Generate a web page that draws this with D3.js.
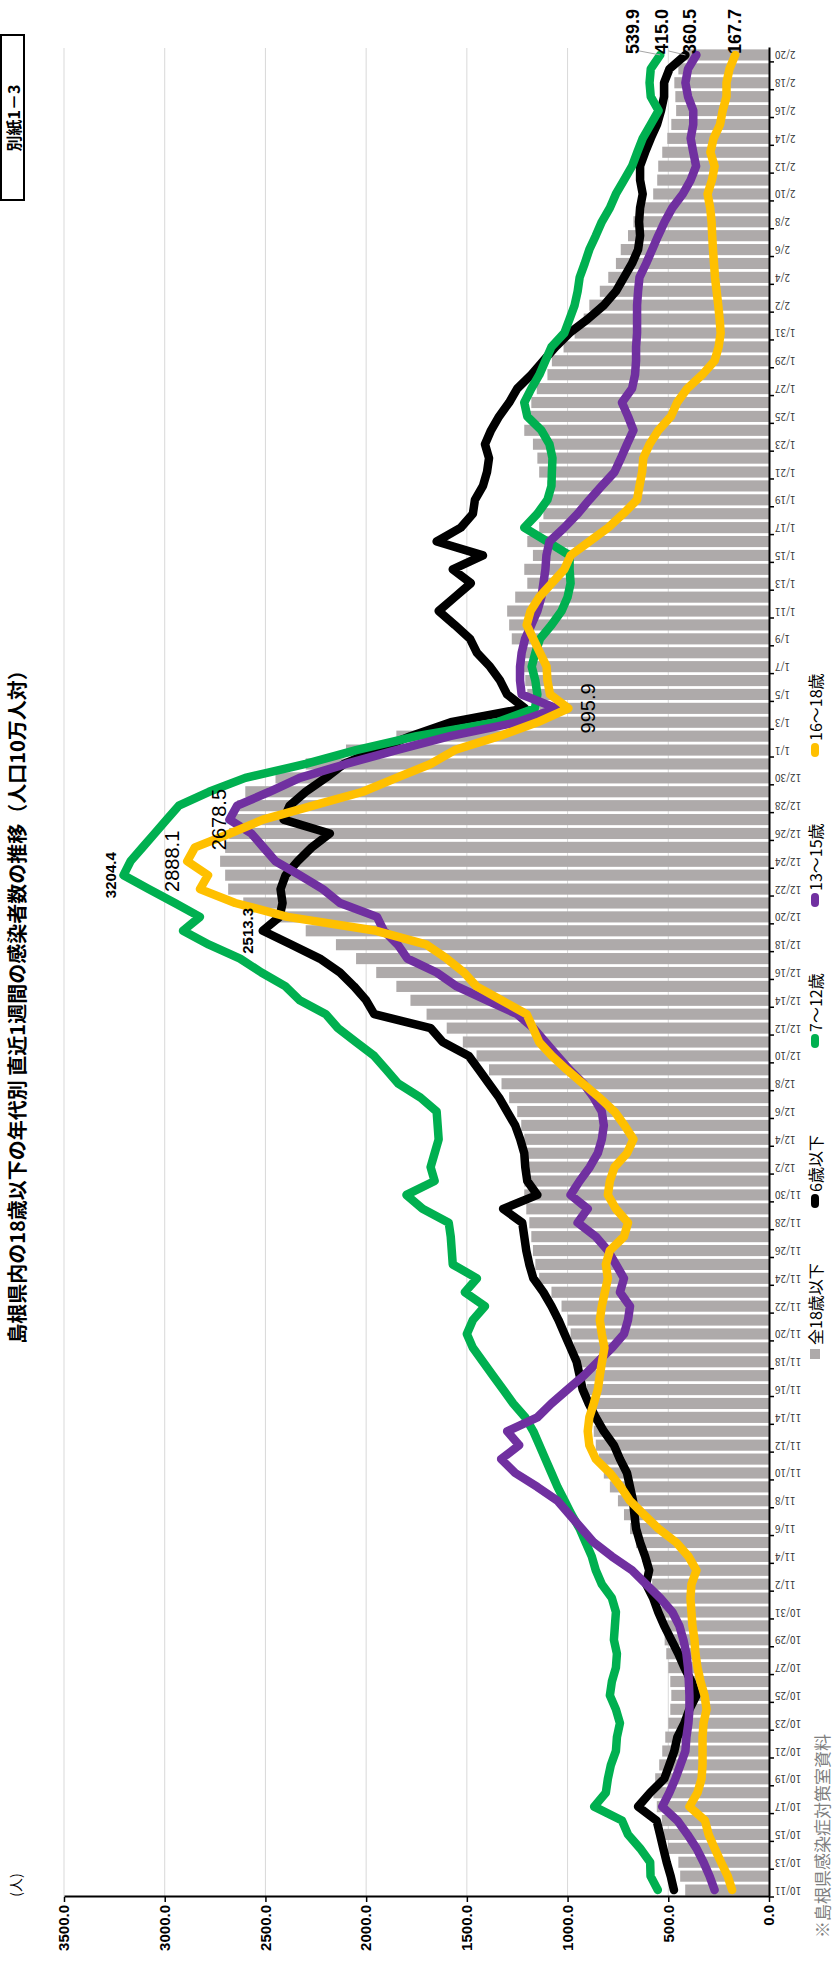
<!DOCTYPE html>
<meta charset="utf-8">
<style>
  body {
    margin: 0;
    padding: 0;
    background-color: #ffffff;
  }
  svg {
    display: block;
  }
  text {
    font-family: "Noto Sans CJK JP", sans-serif;
  }
  .num {
    font-family: "Liberation Sans", Arial, sans-serif;
  }
</style>

<!-- Load d3.js -->
<script src="https://d3js.org/d3.v7.min.js"></script>
<body>
<div id="my_dataviz"></div>
<script>

// categories (one per day)
var dates = [
  "10/11","10/12","10/13","10/14","10/15","10/16","10/17","10/18","10/19","10/20","10/21",
  "10/22","10/23","10/24","10/25","10/26","10/27","10/28","10/29","10/30","10/31",
  "11/1","11/2","11/3","11/4","11/5","11/6","11/7","11/8","11/9","11/10",
  "11/11","11/12","11/13","11/14","11/15","11/16","11/17","11/18","11/19","11/20",
  "11/21","11/22","11/23","11/24","11/25","11/26","11/27","11/28","11/29","11/30",
  "12/1","12/2","12/3","12/4","12/5","12/6","12/7","12/8","12/9","12/10",
  "12/11","12/12","12/13","12/14","12/15","12/16","12/17","12/18","12/19","12/20",
  "12/21","12/22","12/23","12/24","12/25","12/26","12/27","12/28","12/29","12/30","12/31",
  "1/1","1/2","1/3","1/4","1/5","1/6","1/7","1/8","1/9","1/10",
  "1/11","1/12","1/13","1/14","1/15","1/16","1/17","1/18","1/19","1/20",
  "1/21","1/22","1/23","1/24","1/25","1/26","1/27","1/28","1/29","1/30","1/31",
  "2/1","2/2","2/3","2/4","2/5","2/6","2/7","2/8","2/9","2/10",
  "2/11","2/12","2/13","2/14","2/15","2/16","2/17","2/18","2/19","2/20"
];

// 全18歳以下 (bars)
var all18 = [
  416, 441, 450, 502, 524, 532, 557, 574, 565, 545, 530, 515, 500, 490, 485, 490, 500, 510, 518, 530, 545,
  560, 580, 600, 630, 660, 690, 720, 750, 790, 820, 845, 860, 870, 880, 895, 905, 925, 955, 970, 985,
  1000, 1030, 1080, 1141, 1160, 1172, 1180, 1190, 1205, 1215,
  1215, 1215, 1215, 1215, 1230, 1250, 1290, 1328, 1390, 1452, 1520, 1600, 1700, 1780, 1850, 1950,
  2050, 2150, 2300, 2450, 2610, 2685, 2700, 2725, 2700, 2680, 2660, 2640, 2600, 2450, 2300,
  2100, 1850, 1500, 1140, 1200, 1210, 1230, 1236, 1277, 1290, 1300, 1260, 1200, 1215, 1172, 1200,
  1141, 1120, 1110, 1100, 1141, 1150, 1172, 1215, 1203, 1180, 1153, 1100, 1078, 1020, 965,
  920, 892, 840, 798, 760, 736, 700, 673, 640, 575, 555, 550, 530, 505, 485, 461, 465, 470, 450, 426
];

// 6歳以下
var age0_6 = [
  472, 488, 508, 525, 541, 558, 650, 590, 520, 495, 470, 455, 420, 395, 360, 385, 420, 450, 485, 520, 550,
  575, 610, 595, 615, 640, 660, 668, 675, 690, 705, 740, 770, 820, 860, 895, 925, 940, 955, 985, 1015,
  1045, 1080, 1120, 1170, 1190, 1205, 1215, 1225, 1320, 1150,
  1200, 1210, 1215, 1235, 1260, 1300, 1340, 1390, 1440, 1490, 1620, 1680, 1960, 2000, 2060, 2130,
  2230, 2370, 2513.3, 2430, 2415, 2425, 2400, 2340, 2270, 2180, 2410, 2380, 2300, 2200, 2110,
  1950, 1780, 1580, 1211, 1300, 1335, 1385, 1450, 1484, 1560, 1640, 1560, 1480, 1570, 1420, 1650,
  1530, 1470, 1460, 1420, 1400, 1390, 1410, 1380, 1340, 1290, 1250, 1180, 1120, 1060, 990,
  900, 820, 760, 720, 680, 650, 640, 645, 640, 627, 640, 640, 615, 587, 556, 536, 521, 521, 494, 415.0
];

// 7～12歳
var age7_12 = [
  552, 588, 590, 640, 700, 730, 868, 810, 800, 785, 760, 755, 740, 760, 790, 780, 760, 755, 770, 765, 760,
  780, 830, 860, 880, 910, 940, 980, 1015, 1050, 1080, 1110, 1140, 1170, 1210, 1270, 1320, 1370, 1420, 1470, 1500,
  1470, 1410, 1510, 1450, 1570, 1575, 1580, 1590, 1720, 1800,
  1660, 1680, 1660, 1640, 1645, 1650, 1730, 1840, 1900, 1960, 2050, 2140, 2200, 2330, 2400, 2520,
  2626, 2780, 2909, 2825, 2950, 3080, 3204.4, 3170, 3110, 3050, 2990, 2930, 2780, 2600, 2300,
  2050, 1750, 1350, 1162, 1150, 1160, 1178, 1160, 1137, 1080, 1030, 1000, 985, 990, 990, 1100,
  1215, 1150, 1100, 1080, 1078, 1075, 1090, 1130, 1200, 1215, 1180, 1140, 1110, 1080, 1016,
  990, 965, 950, 940, 915, 892, 860, 830, 790, 760, 720, 680, 654, 627, 587, 548, 587, 593, 587, 539.9
];

// 13～15歳
var age13_15 = [
  270, 295, 325, 360, 405, 455, 530, 495, 465, 440, 415, 410, 400, 395, 395, 398, 402, 410, 425, 445, 480,
  540, 610, 680, 780, 870, 930, 990, 1050, 1150, 1260, 1330, 1240, 1300, 1150, 1080, 1000, 920, 850, 780, 720,
  700, 690, 740, 720, 760, 800, 860, 950, 900, 985,
  940, 890, 850, 830, 820, 830, 870, 920, 990, 1050, 1110, 1170, 1250, 1400, 1550, 1650,
  1795, 1843, 1912, 1946, 2130, 2215, 2330, 2450, 2510, 2570, 2678.5, 2640, 2480, 2330, 2100,
  1850, 1584, 1250, 1054, 1228, 1236, 1236, 1228, 1211, 1180, 1150, 1130, 1120, 1110, 1105, 1090,
  1016, 950, 892, 830, 767, 735, 705, 673, 700, 730, 680, 665, 660, 660, 655,
  655, 655, 650, 643, 610, 580, 550, 518, 480, 428, 389, 362, 376, 389, 376, 376, 402, 415, 402, 360.5
];

// 16～18歳
var age16_18 = [
  183, 205, 238, 270, 300, 318, 395, 355, 335, 330, 330, 330, 325, 310, 320, 340, 355, 365, 370, 380, 385,
  390, 385, 360, 400, 460, 549, 620, 690, 736, 790, 860, 892, 900, 892, 870, 850, 840, 829, 817, 830,
  840, 830, 815, 800, 810, 790, 720, 700, 760, 800,
  790, 767, 705, 673, 717, 767, 842, 923, 1003, 1078, 1141, 1172, 1203, 1328, 1452, 1514,
  1600, 1700, 1950, 2390, 2650, 2825, 2785, 2888.1, 2850, 2676, 2512, 2264, 2016, 1850, 1680,
  1560, 1340, 1150, 995.9, 1087, 1100, 1104, 1137, 1170, 1203, 1184, 1141, 1078, 1016, 985, 892,
  798, 723, 655, 643, 630, 624, 593, 549, 487, 456, 406, 331, 270, 250, 240,
  245, 252, 260, 268, 273, 278, 282, 285, 292, 305, 283, 270, 291, 275, 243, 230, 211, 211, 196, 167.7
];

var yTicks = [0, 500, 1000, 1500, 2000, 2500, 3000, 3500];
var legendNames = ["全18歳以下", "6歳以下", "7～12歳", "13～15歳", "16～18歳"];
var lineColors = ["#000000", "#00B050", "#7030A0", "#FFC000"];
var barColor = "#AEAAAA";

// the chart is drawn in its own frame and then turned a quarter turn to the left
var W = 1966, H = 834;

var svg = d3.select("#my_dataviz")
  .append("svg")
    .attr("width", H)
    .attr("height", W);

svg.append("rect").attr("width", H).attr("height", W).attr("fill", "#fff");

var g = svg.append("g")
  .attr("transform", "translate(0," + W + ") rotate(-90)");

var x = d3.scaleBand()
  .domain(dates)
  .range([69, 1918])
  .paddingInner(0.2)
  .paddingOuter(0.1);

var y = d3.scaleLinear()
  .domain([0, 3500])
  .range([769, 64]);

var cx = function(i) { return x(dates[i]) + x.bandwidth() / 2; };

// gridlines
g.append("g")
  .selectAll("line")
  .data(yTicks.slice(1))
  .join("line")
    .attr("x1", 69)
    .attr("x2", 1918)
    .attr("y1", function(d) { return y(d); })
    .attr("y2", function(d) { return y(d); })
    .attr("stroke", "#D9D9D9")
    .attr("stroke-width", 1);

// bars
g.append("g")
  .selectAll("rect")
  .data(all18)
  .join("rect")
    .attr("x", function(d, i) { return x(dates[i]); })
    .attr("width", x.bandwidth())
    .attr("y", function(d) { return y(d); })
    .attr("height", function(d) { return y(0) - y(d); })
    .attr("fill", barColor);

// lines
var line = d3.line()
  .x(function(d, i) { return cx(i); })
  .y(function(d) { return y(d); });

var lineSeries = [age0_6, age7_12, age13_15, age16_18];
lineSeries.forEach(function(s, k) {
  g.append("path")
    .datum(s)
    .attr("d", line)
    .attr("fill", "none")
    .attr("stroke", lineColors[k])
    .attr("stroke-width", 8.5)
    .attr("stroke-linejoin", "round")
    .attr("stroke-linecap", "round");
});

// value axis
var yAxis = g.append("g")
  .attr("transform", "translate(69,0)")
  .call(d3.axisLeft(y).tickValues(yTicks).tickFormat(d3.format(".1f")).tickSize(5).tickSizeOuter(0));
yAxis.select(".domain").attr("stroke", "#000").attr("stroke-width", 2);
yAxis.selectAll(".tick line").attr("stroke", "#000").attr("stroke-width", 1.5);
yAxis.selectAll(".tick text")
  .attr("class", "num")
  .style("font-size", "15px")
  .style("font-weight", "bold")
  .attr("fill", "#000");

// date axis
var tickDates = dates.filter(function(d, i) { return i % 2 === 0; });
var xAxis = g.append("g")
  .attr("transform", "translate(0,769)")
  .call(d3.axisBottom(x).tickValues(tickDates).tickSize(0).tickSizeOuter(0));
xAxis.select(".domain").attr("stroke", "#000").attr("stroke-width", 2);
xAxis.selectAll(".tick text")
  .attr("transform", "rotate(-90)")
  .attr("x", -6)
  .attr("y", 0)
  .attr("dy", "0.35em")
  .style("text-anchor", "end")
  .style("font-size", "10px")
  .attr("fill", "#333");

// tick marks sit on the category boundaries, every second one
var half = (x.step() - x.bandwidth()) / 2;
xAxis.append("g")
  .selectAll("line")
  .data(tickDates)
  .join("line")
    .attr("x1", function(d) { return x(d) - half; })
    .attr("x2", function(d) { return x(d) - half; })
    .attr("y1", 0)
    .attr("y2", 5)
    .attr("stroke", "#000")
    .attr("stroke-width", 1.5);

// data labels
var fmt = d3.format(".1f");
var peakLabels = [
  { s: 0, i: d3.maxIndex(age0_6), gap: 10, size: 15, weight: "bold" },
  { s: 1, i: d3.maxIndex(age7_12), gap: 8, size: 15, weight: "bold" },
  { s: 3, i: d3.maxIndex(age16_18), gap: 8, size: 20, weight: "normal" },
  { s: 2, i: d3.maxIndex(age13_15), gap: 3, size: 20, weight: "normal" }
];
peakLabels.forEach(function(p) {
  var v = lineSeries[p.s][p.i];
  g.append("text")
    .attr("class", "num")
    .attr("x", cx(p.i))
    .attr("y", y(v) - p.gap)
    .attr("text-anchor", "middle")
    .style("font-size", p.size + "px")
    .style("font-weight", p.weight)
    .text(fmt(v));
});

// local low of 16～18歳
var lowIdx = dates.indexOf("1/4");
g.append("text")
  .attr("class", "num")
  .attr("x", cx(lowIdx))
  .attr("y", y(age16_18[lowIdx]) + 27)
  .attr("text-anchor", "middle")
  .style("font-size", "20px")
  .text(fmt(age16_18[lowIdx]));

// last-day labels with leader lines
var last = dates.length - 1;
var endShift = [-23, -27, -6, 0];
lineSeries.forEach(function(s, k) {
  var px = cx(last), py = y(s[last]);
  if (Math.abs(endShift[k]) > 10) {
    g.append("line")
      .attr("x1", px).attr("y1", py)
      .attr("x2", px + 4).attr("y2", py + endShift[k] + 6)
      .attr("stroke", "#A6A6A6")
      .attr("stroke-width", 1);
  }
  g.append("text")
    .attr("class", "num")
    .attr("x", px + 1)
    .attr("y", py + endShift[k])
    .attr("dominant-baseline", "central")
    .style("font-size", "18px")
    .style("font-weight", "bold")
    .text(fmt(s[last]));
});

// legend
var legendX = [612, 765, 925, 1066, 1216];
var legend = g.append("g").attr("transform", "translate(0,815)");
legendNames.forEach(function(name, k) {
  var lx = legendX[k];
  if (k === 0) {
    legend.append("rect")
      .attr("x", lx - 5).attr("y", -5)
      .attr("width", 10).attr("height", 10)
      .attr("fill", barColor);
  } else {
    legend.append("line")
      .attr("x1", lx - 3).attr("x2", lx + 3)
      .attr("y1", 0).attr("y2", 0)
      .attr("stroke", lineColors[k - 1])
      .attr("stroke-width", 8)
      .attr("stroke-linecap", "round");
  }
  legend.append("text")
    .attr("x", lx + 9)
    .attr("y", 0)
    .attr("dominant-baseline", "central")
    .style("font-size", "16px")
    .text(name);
});

// unit
g.append("text")
  .attr("x", 81)
  .attr("y", 15)
  .attr("text-anchor", "middle")
  .attr("dominant-baseline", "central")
  .style("font-size", "14px")
  .text("(人)");

// source note
g.append("text")
  .attr("x", 28)
  .attr("y", 821)
  .attr("dominant-baseline", "central")
  .style("font-size", "17px")
  .attr("fill", "#7F7F7F")
  .text("※島根県感染症対策室資料");

// title, pressed against the page edge
g.append("text")
  .attr("x", 964)
  .attr("y", 16)
  .attr("text-anchor", "middle")
  .attr("dominant-baseline", "central")
  .style("font-size", "20px")
  .style("font-weight", "bold")
  .text("島根県内の18歳以下の年代別 直近1週間の感染者数の推移（人口10万人対）");

// attachment tag
g.append("rect")
  .attr("x", 1766)
  .attr("y", 1)
  .attr("width", 165)
  .attr("height", 23)
  .attr("fill", "none")
  .attr("stroke", "#000")
  .attr("stroke-width", 2);
g.append("text")
  .attr("x", 1848)
  .attr("y", 13)
  .attr("text-anchor", "middle")
  .attr("dominant-baseline", "central")
  .style("font-size", "16px")
  .style("font-weight", "bold")
  .text("別紙1－3");

</script>
</body>
